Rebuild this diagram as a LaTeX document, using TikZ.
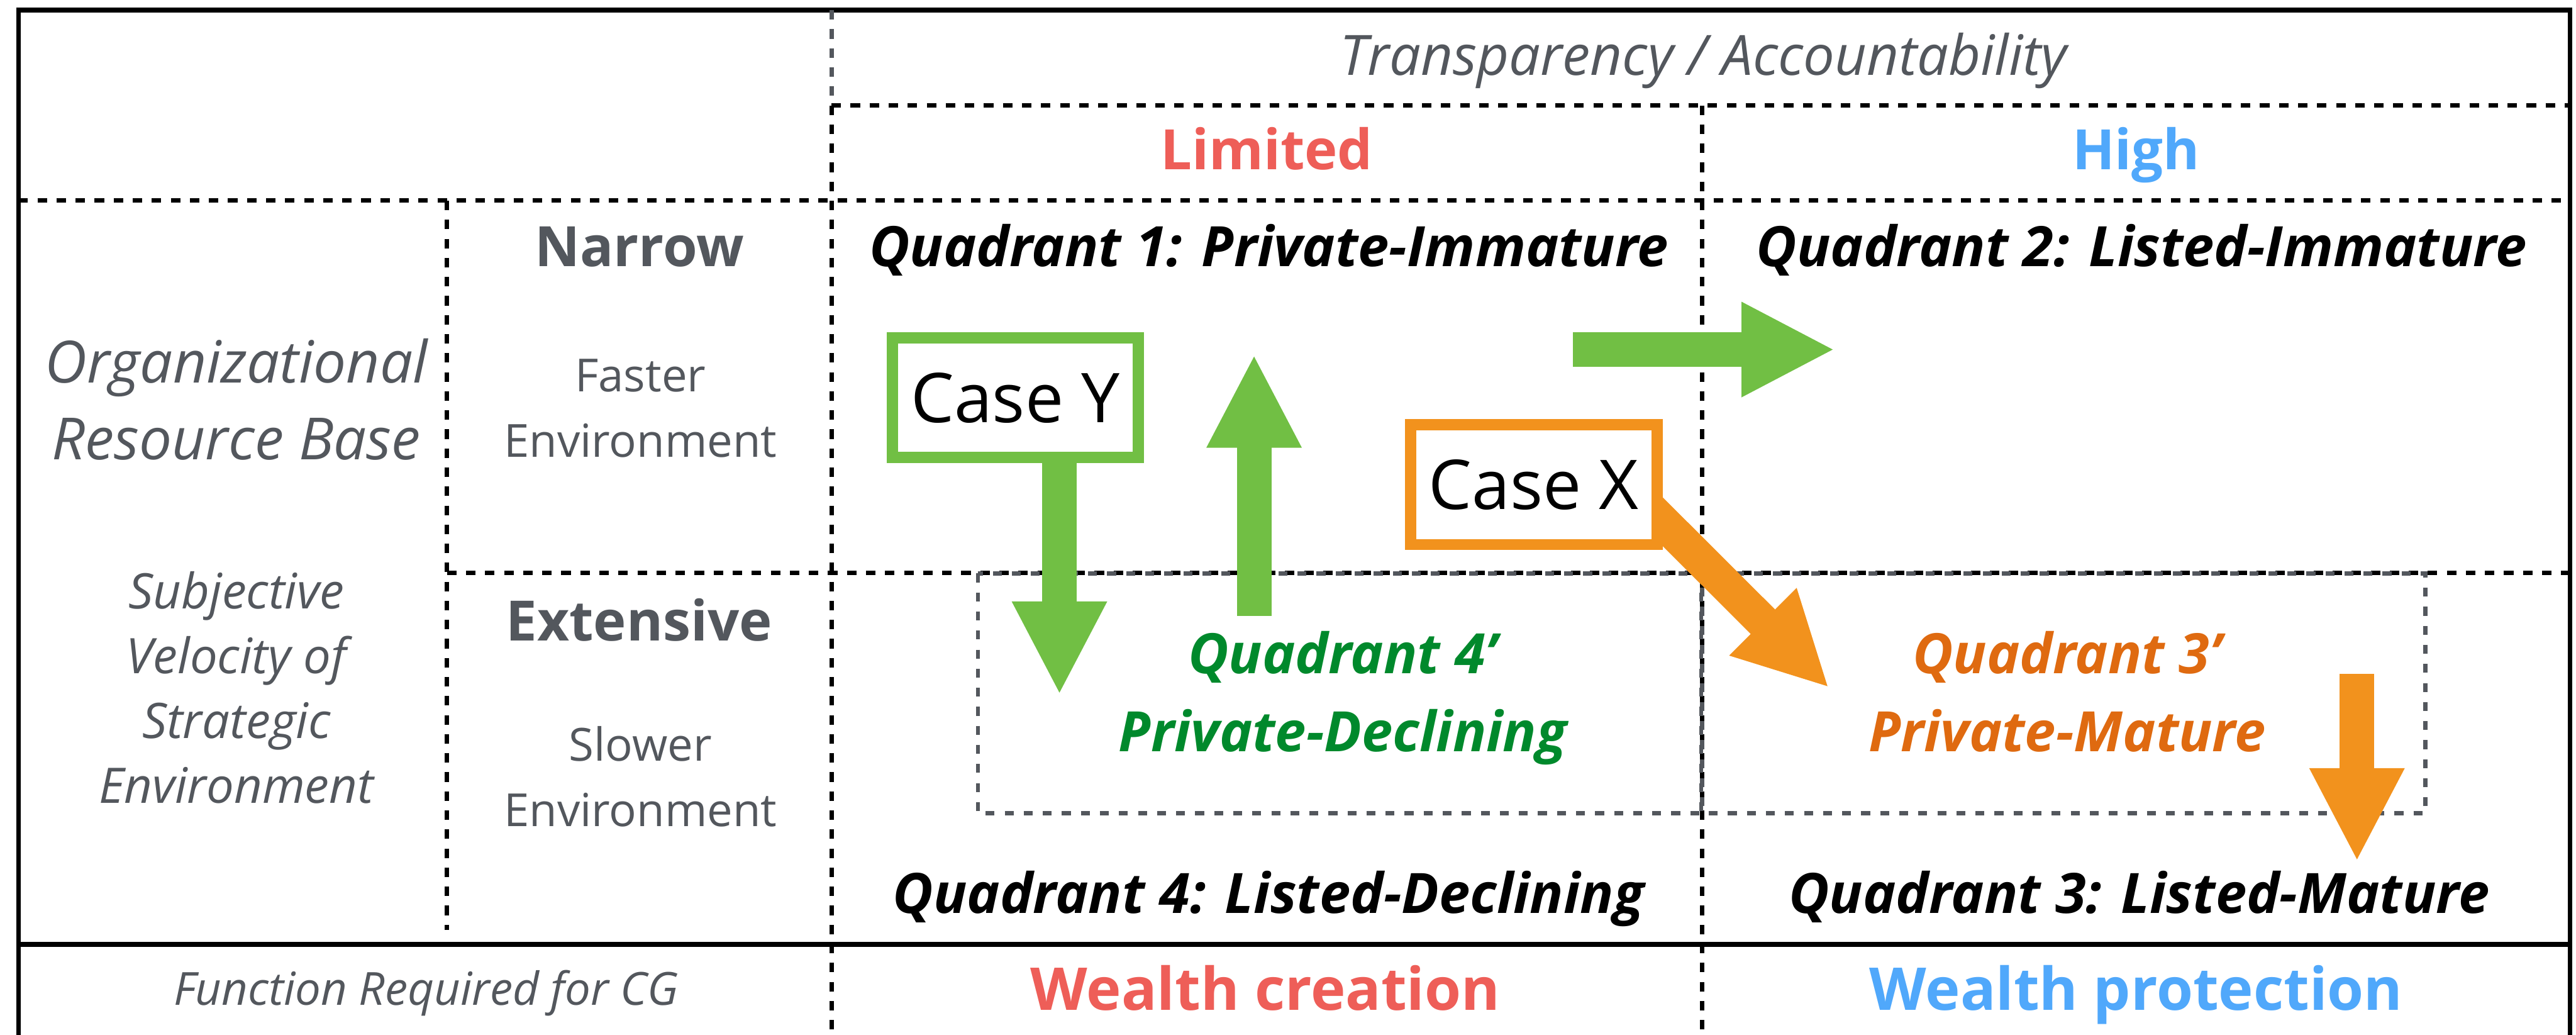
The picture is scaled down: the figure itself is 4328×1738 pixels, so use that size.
\documentclass[tikz,border=0pt]{standalone}
\usepackage{fontspec}
\setmainfont{Open Sans}
\usetikzlibrary{arrows.meta}

\definecolor{leafgreen}{HTML}{71BF44}
\definecolor{amber}{HTML}{F2921D}
\definecolor{deepgreen}{HTML}{00892C}
\definecolor{rust}{HTML}{DF6A10}
\definecolor{coral}{HTML}{EE5E58}
\definecolor{sky}{HTML}{50A8FB}
\definecolor{slate}{HTML}{53575D}

\pgfdeclarelayer{front}
\pgfsetlayers{main,front}

\tikzset{
    rule/.style={line width=0.8mm},
    dotrule/.style={line width=0.75mm, dash pattern=on 1.6mm off 1.6mm},
    dashrule/.style={line width=0.75mm, dash pattern=on 1.6mm off 1.6mm},
    zonebox/.style={draw=slate, line width=0.7mm, dash pattern=on 1.5mm off 1.7mm},
    casebox/.style={rectangle, draw, fill=white, line width=1.9mm, minimum width=41.4mm, minimum height=20.1mm, inner sep=0pt, font=\fontsize{32.8}{36}\selectfont},
    move/.style={line width=5.8mm, -{Triangle[length=15.7mm,width=14.8mm]}},
    lbl/.style={anchor=base, align=center, inner sep=0pt},
    quad/.style={lbl, font=\fontsize{26.6}{37.3}\selectfont\bfseries\itshape},
    level/.style={lbl, font=\fontsize{26.6}{32}\selectfont\bfseries},
    side/.style={lbl, text=slate, font=\fontsize{21.8}{31.3}\selectfont}
}

\begin{document}
\begin{tikzpicture}[x=0.1mm, y=-0.1mm]
    \useasboundingbox (0,0) rectangle (4328,1738);

    \draw[rule] (31,1760) -- (31,17) -- (4318,17) -- (4318,1760)
        (31,1586) -- (4318,1586);
    \draw[dotrule] (1397,177) -- (4318,177) (31,337) -- (4318,337);
    \draw[dashrule, slate] (1397,17) -- (1397,177);
    \draw[dashrule] (1397,177) -- (1397,1760) (2860,177) -- (2860,1760)
        (751,337) -- (751,1562) (751,962) -- (4318,962);
    \draw[zonebox] (1643,963) rectangle (2860,1366) (2858,963) rectangle (4075,1366);

    \node[lbl, text=slate, font=\fontsize{26.6}{32}\selectfont\itshape] (axis) at (2862,126) {Transparency / Accountability};
    \node[level, text=coral] (limited) at (2128,285) {Limited};
    \node[level, text=sky] (high) at (3589,285) {High};
    \node[level, text=slate] (narrow) at (1074,448) {Narrow};
    \node[level, text=slate] (extensive) at (1074,1076) {Extensive};
    \node[side] (faster) at (1076,768) {Faster\\Environment};
    \node[side] (slower) at (1076,1388) {Slower\\Environment};
    \node[lbl, text=slate, font=\fontsize{27.8}{36.7}\selectfont\itshape] (resource) at (397,772) {Organizational\\Resource Base};
    \node[lbl, text=slate, font=\fontsize{23.4}{31}\selectfont\itshape] (velocity) at (397,1349) {Subjective\\Velocity of\\Strategic\\Environment};
    \node[lbl, text=slate, font=\fontsize{21.8}{26}\selectfont\itshape] (function) at (716,1688) {Function Required for CG};

    \node[quad] (q1) at (2132,448) {Quadrant 1: Private-Immature};
    \node[quad] (q2) at (3598,448) {Quadrant 2: Listed-Immature};
    \node[quad] (q4) at (2131,1534) {Quadrant 4: Listed-Declining};
    \node[quad] (q3) at (3594,1534) {Quadrant 3: Listed-Mature};
    \node[quad, text=deepgreen] (q4p) at (2256,1262) {Quadrant 4’\\Private-Declining};
    \node[quad, text=rust] (q3p) at (3473,1262) {Quadrant 3’\\Private-Mature};

    \node[lbl, text=coral, font=\fontsize{28.2}{32}\selectfont\bfseries] (creation) at (2126,1696) {Wealth creation};
    \node[lbl, text=sky, font=\fontsize{28.2}{32}\selectfont\bfseries] (protection) at (3589,1696) {Wealth protection};

    \begin{pgfonlayer}{front}
        \node[casebox, draw=leafgreen] (caseY) at (1706,668) {Case Y};
        \node[casebox, draw=amber] (caseX) at (2577,814) {Case X};
    \end{pgfonlayer}

    \coordinate (yTip) at (1780,1167);
    \coordinate (upFoot) at (2107,1034);
    \coordinate (upTip) at (2107,595);
    \coordinate (rFoot) at (2643,587);
    \coordinate (rTip) at (3083,587);
    \coordinate (xTip) at (3073,1155);
    \coordinate (dFoot) at (3960,1132);
    \coordinate (dTip) at (3960,1447);

    \draw[move, leafgreen] (caseY.south -| yTip) -- (yTip);
    \draw[move, leafgreen] (upFoot) -- (upTip);
    \draw[move, leafgreen] (rFoot) -- (rTip);
    \draw[move, amber, shorten <=-4mm] (caseX.-16.5) -- (xTip);
    \draw[move, amber] (dFoot) -- (dTip);
\end{tikzpicture}
\end{document}
